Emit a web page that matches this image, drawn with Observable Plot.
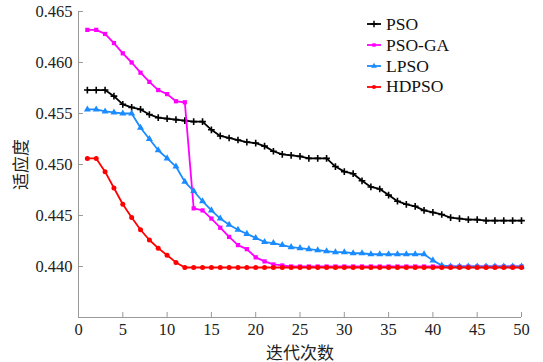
<!DOCTYPE html>
<html>
<head>
<meta charset="utf-8">
<script src="https://cdn.jsdelivr.net/npm/d3@7"></script>
<script src="https://cdn.jsdelivr.net/npm/@observablehq/plot@0.6"></script>
<style>
  html, body { margin: 0; padding: 0; background: #fff; }
  #wrap { position: relative; width: 543px; height: 362px; }
  #legend { position: absolute; left: 367px; top: 14px; font-size: 17.5px; color: #111; }
  #legend .row { display: flex; align-items: center; height: 20.8px; }
  #legend svg { margin-right: 5px; }
</style>
</head>
<body>
<div id="wrap"><div id="legend"></div></div>
<script>
const iterations = [1,2,3,4,5,6,7,8,9,10,11,12,13,14,15,16,17,18,19,20,21,22,23,24,25,26,27,28,29,30,31,32,33,34,35,36,37,38,39,40,41,42,43,44,45,46,47,48,49,50];
const seriesNames = ["PSO", "PSO-GA", "LPSO", "HDPSO"];
const pso = [0.4573,0.4573,0.4573,0.4567,0.4559,0.4556,0.4554,0.4549,0.4546,0.4545,
             0.4544,0.4543,0.4542,0.4542,0.4534,0.4528,0.4526,0.4524,0.4522,0.4521,
             0.4518,0.4513,0.4510,0.4509,0.4508,0.4506,0.4506,0.4506,0.4498,0.4493,
             0.4491,0.4484,0.4478,0.4476,0.4470,0.4464,0.4461,0.4459,0.4455,0.4453,
             0.4451,0.4448,0.4447,0.4446,0.4446,0.4445,0.4445,0.4445,0.4445,0.4445];
const psoGa = [0.4632,0.4632,0.4628,0.4619,0.4609,0.4600,0.4590,0.4581,0.4573,0.4569,
               0.4562,0.4561,0.4457,0.4455,0.4447,0.4438,0.4429,0.4421,0.4417,0.4409,
               0.4405,0.4402,0.4401,0.4400,0.4400,0.4400,0.4400,0.4400,0.4400,0.4400,
               0.4400,0.4400,0.4400,0.4400,0.4400,0.4400,0.4400,0.4400,0.4400,0.4400,
               0.4400,0.4400,0.4400,0.4400,0.4400,0.4400,0.4400,0.4400,0.4400,0.4400];
const lpso = [0.4554,0.4554,0.4552,0.4551,0.4550,0.4550,0.4536,0.4525,0.4514,0.4506,
              0.4498,0.4483,0.4474,0.4464,0.4455,0.4447,0.4441,0.4436,0.4432,0.4428,
              0.4424,0.4423,0.4421,0.4419,0.4418,0.4417,0.4416,0.4415,0.4414,0.4414,
              0.4413,0.4413,0.4412,0.4412,0.4412,0.4412,0.4412,0.4412,0.4412,0.4406,
              0.4401,0.4400,0.4400,0.4400,0.4400,0.4400,0.4400,0.4400,0.4400,0.4400];
const hdpso = [0.4506,0.4506,0.4493,0.4477,0.4461,0.4448,0.4436,0.4426,0.4418,0.4411,
               0.4404,0.4399,0.4399,0.4399,0.4399,0.4399,0.4399,0.4399,0.4399,0.4399,
               0.4399,0.4399,0.4399,0.4399,0.4399,0.4399,0.4399,0.4399,0.4399,0.4399,
               0.4399,0.4399,0.4399,0.4399,0.4399,0.4399,0.4399,0.4399,0.4399,0.4399,
               0.4399,0.4399,0.4399,0.4399,0.4399,0.4399,0.4399,0.4399,0.4399,0.4399];
const xTicks = [0,5,10,15,20,25,30,35,40,45,50];
const yTicks = [0.440,0.445,0.450,0.455,0.460,0.465];
const xLabel = "迭代次数";
const yLabel = "适应度";

const colors = ["#000000", "#ff00ff", "#1a8cff", "#ff0000"];
const symbols = ["plus", "square", "triangle", "circle"];
const sizes = [2.3, 2.4, 2.6, 2.5];
const valuesList = [pso, psoGa, lpso, hdpso];

// pick an installed serif face by measuring text width against the generic fallbacks
function pickSerif() {
  const ctx = document.createElement("canvas").getContext("2d");
  const sample = "0.465 PSO-GA HDPSO 1234567890";
  const w = f => { ctx.font = `40px ${f}`; return ctx.measureText(sample).width; };
  const base1 = w("monospace");
  const cands = ["Liberation Serif", "Times New Roman", "Tinos", "DejaVu Serif", "Noto Serif", "FreeSerif", "Nimbus Roman", "Times"];
  for (const c of cands) {
    const a = w(`'${c}', monospace`), b = w(`'${c}', sans-serif`);
    if (a === b && a !== base1) return `'${c}'`;
  }
  return "serif";
}
const serif = pickSerif();
document.getElementById("legend").style.fontFamily = serif;

const data = [];
seriesNames.forEach((name, i) => {
  valuesList[i].forEach((v, j) => data.push({series: name, x: iterations[j], y: v}));
});

const marks = [
  Plot.ruleX([0], {stroke: "#999", strokeWidth: 1}),
  Plot.ruleY([0.435], {stroke: "#999", strokeWidth: 1}),
  Plot.axisX({ticks: xTicks, tickSize: -5, tickPadding: 11, stroke: "#999", fill: "#222",
    fontFamily: serif, fontSize: 16.5, label: null}),
  Plot.axisY({ticks: yTicks, tickFormat: d3.format(".3f"), tickSize: -5, tickPadding: 11, stroke: "#999", fill: "#222",
    fontFamily: serif, fontSize: 16.5, label: null}),
  Plot.axisX({ticks: [], tickSize: 0, label: xLabel, labelAnchor: "center", labelOffset: 41, labelArrow: "none",
    fontFamily: "'Noto Sans CJK SC', sans-serif", fontSize: 17, fill: "#222"}),
  Plot.axisY({ticks: [], tickSize: 0, label: yLabel, labelAnchor: "center", labelOffset: 64, labelArrow: "none",
    fontFamily: "'Noto Sans CJK SC', sans-serif", fontSize: 17, fill: "#222"}),
];
seriesNames.forEach((name, i) => {
  const d = data.filter(r => r.series === name);
  marks.push(Plot.line(d, {x: "x", y: "y", stroke: colors[i], strokeWidth: 1.8}));
  if (symbols[i] === "plus") {
    marks.push(Plot.dot(d, {x: "x", y: "y", fill: "none", stroke: colors[i], strokeWidth: 1.6, symbol: () => symbols[i], r: sizes[i]}));
  } else {
    marks.push(Plot.dot(d, {x: "x", y: "y", fill: colors[i], stroke: "none", symbol: () => symbols[i], r: sizes[i]}));
  }
});

const chart = Plot.plot({
  width: 543,
  height: 362,
  marginTop: 11,
  marginBottom: 45,
  marginLeft: 78,
  marginRight: 22,
  style: {fontFamily: serif, fontSize: "16px", background: "#fff", color: "#222"},
  x: {domain: [0, 50]},
  y: {domain: [0.435, 0.465]},
  symbol: {type: "identity"},
  marks
});
document.getElementById("wrap").prepend(chart);

// legend
const legend = document.getElementById("legend");
const legendSyms = [d3.symbolPlus, d3.symbolSquare, d3.symbolTriangle, d3.symbolCircle];
const legendSizes = [16, 12, 14, 14];
seriesNames.forEach((name, i) => {
  const row = document.createElement("div");
  row.className = "row";
  const sym = d3.symbol(legendSyms[i], legendSizes[i])();
  const paint = i === 0 ? `fill="none" stroke="${colors[i]}" stroke-width="1.5"` : `fill="${colors[i]}"`;
  row.innerHTML = `<svg width="14" height="10"><line x1="0" x2="14" y1="5" y2="5" stroke="${colors[i]}" stroke-width="1.8"/><path d="${sym}" transform="translate(7,5)" ${paint}/></svg><span>${name}</span>`;
  legend.appendChild(row);
});
</script>
</body>
</html>
